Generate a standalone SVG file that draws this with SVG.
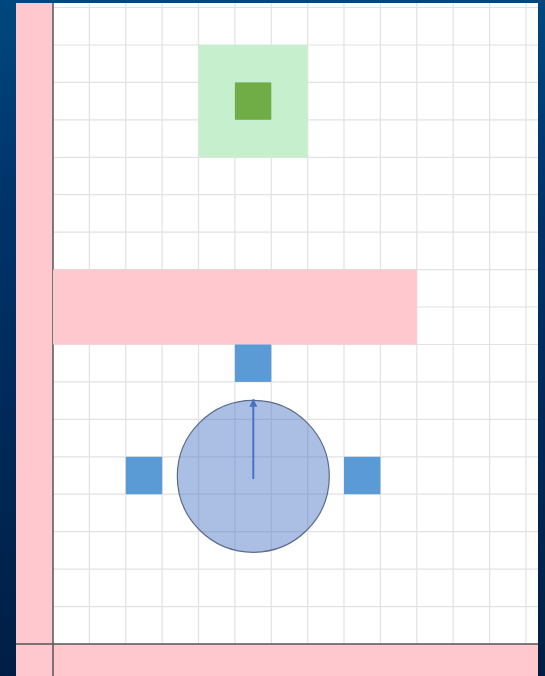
<svg xmlns="http://www.w3.org/2000/svg" width="545" height="676" viewBox="0 0 545 676">
<defs>
<linearGradient id="bg" x1="0" y1="0" x2="0" y2="1">
<stop offset="0" stop-color="#00487f"/>
<stop offset="0.3" stop-color="#00336a"/>
<stop offset="1" stop-color="#001e45"/>
</linearGradient>
<marker id="ah" viewBox="0 0 10 10" refX="9" refY="5" markerWidth="4" markerHeight="4" orient="auto">
<path d="M0,0 L10,5 L0,10 z" fill="#4472c4"/>
</marker>
</defs>
<style>
.grid line{stroke:#e2e2e2;stroke-width:1.2}
.axis{stroke:#555;stroke-width:1.5}
.pink{fill:#ffc7ce}
.blue{fill:#5b9bd5}
</style>
<rect x="0" y="0" width="545" height="676" fill="url(#bg)"/>
<rect x="16" y="3" width="522" height="673" fill="#ffffff"/>
<g class="grid">
<line x1="89.4" y1="3" x2="89.4" y2="644"/>
<line x1="125.8" y1="3" x2="125.8" y2="644"/>
<line x1="162.1" y1="3" x2="162.1" y2="644"/>
<line x1="198.5" y1="3" x2="198.5" y2="644"/>
<line x1="234.9" y1="3" x2="234.9" y2="644"/>
<line x1="271.3" y1="3" x2="271.3" y2="644"/>
<line x1="307.7" y1="3" x2="307.7" y2="644"/>
<line x1="344" y1="3" x2="344" y2="644"/>
<line x1="380.4" y1="3" x2="380.4" y2="644"/>
<line x1="416.8" y1="3" x2="416.8" y2="644"/>
<line x1="453.2" y1="3" x2="453.2" y2="644"/>
<line x1="489.6" y1="3" x2="489.6" y2="644"/>
<line x1="526" y1="3" x2="526" y2="644"/>
<line x1="53" y1="606.6" x2="538" y2="606.6"/>
<line x1="53" y1="569.1" x2="538" y2="569.1"/>
<line x1="53" y1="531.7" x2="538" y2="531.7"/>
<line x1="53" y1="494.2" x2="538" y2="494.2"/>
<line x1="53" y1="456.8" x2="538" y2="456.8"/>
<line x1="53" y1="419.4" x2="538" y2="419.4"/>
<line x1="53" y1="381.9" x2="538" y2="381.9"/>
<line x1="53" y1="344.5" x2="538" y2="344.5"/>
<line x1="53" y1="307" x2="538" y2="307"/>
<line x1="53" y1="269.6" x2="538" y2="269.6"/>
<line x1="53" y1="232.2" x2="538" y2="232.2"/>
<line x1="53" y1="194.7" x2="538" y2="194.7"/>
<line x1="53" y1="157.3" x2="538" y2="157.3"/>
<line x1="53" y1="119.8" x2="538" y2="119.8"/>
<line x1="53" y1="82.4" x2="538" y2="82.4"/>
<line x1="53" y1="45" x2="538" y2="45"/>
<line x1="53" y1="7.5" x2="538" y2="7.5"/>
</g>
<g id="left-strip"><rect class="pink" x="16" y="3" width="37" height="673"/></g>
<g id="bottom-strip"><rect class="pink" x="16" y="644" width="522" height="32"/></g>
<g id="axes">
<line class="axis" x1="53" y1="3" x2="53" y2="676"/>
<line class="axis" x1="16" y1="644" x2="538" y2="644"/>
</g>
<g id="green-zone">
<rect x="198.5" y="45" width="109.2" height="112.3" fill="#c6efce"/>
<rect x="234.9" y="82.4" width="36.4" height="37.4" fill="#70ad47"/>
</g>
<g id="pink-bar"><rect class="pink" x="53" y="269.6" width="363.8" height="74.9"/></g>
<g id="top-square"><rect class="blue" x="234.9" y="344.5" width="36.4" height="37.4"/></g>
<g id="left-square"><rect class="blue" x="125.8" y="456.8" width="36.4" height="37.4"/></g>
<g id="right-square"><rect class="blue" x="344" y="456.8" width="36.4" height="37.4"/></g>
<g id="circle"><circle cx="253.3" cy="476.3" r="76" fill="#4472c4" fill-opacity="0.45" stroke="#5a6a8a" stroke-width="1.2"/></g>
<g id="connectors">
<line x1="253.3" y1="479" x2="253.3" y2="399.5" stroke="#4472c4" stroke-width="2" marker-end="url(#ah)"/>
</g>
</svg>
